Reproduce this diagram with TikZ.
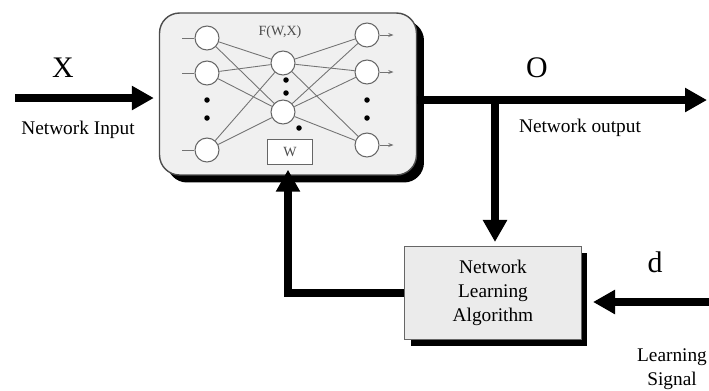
\documentclass[tikz,border=0pt]{standalone}
\usepackage{fontspec}
\setmainfont{Liberation Serif}
\usetikzlibrary{arrows.meta,shadows}
\tikzset{
  bigarrow/.style={line width=0.16cm,-{Triangle[length=0.44cm,width=0.46cm]}},
  neuron/.style={circle,draw=black!60,fill=white,line width=0.6pt,minimum size=0.48cm,inner sep=0pt},
  wire/.style={draw=black!55,line width=0.5pt},
  dot/.style={circle,fill=black,inner sep=0pt,minimum size=0.11cm},
  label/.style={font=\fontsize{11}{13.6}\selectfont},
  biglabel/.style={font=\fontsize{17}{19}\selectfont}
}
\begin{document}
\begin{tikzpicture}[x=0.02cm,y=-0.02cm]
\useasboundingbox (0,0) rectangle (709,390);
% network block
\node (net) at (288,94) [draw=black!70,line width=0.8pt,fill=black!6,rounded corners=0.4cm,
  minimum width=5.14cm,minimum height=3.24cm,
  drop shadow={shadow xshift=0.15cm,shadow yshift=-0.15cm,fill=black,opacity=1}] {};
\node (learn) at (493,293) [draw=black!60,line width=0.6pt,fill=black!8,
  minimum width=3.54cm,minimum height=1.86cm,align=center,label,
  drop shadow={shadow xshift=0.12cm,shadow yshift=-0.12cm,fill=black,opacity=1}]
  {Network\\Learning\\Algorithm};
% neurons
\node[neuron] (l1) at (207,38) {};
\node[neuron] (l2) at (207,73) {};
\node[neuron] (l3) at (207,150) {};
\node[neuron] (h1) at (283,63) {};
\node[neuron] (h2) at (283,112) {};
\node[neuron] (r1) at (367,35) {};
\node[neuron] (r2) at (367,72) {};
\node[neuron] (r3) at (367,145) {};
\foreach \a in {l1,l2,l3}
  \foreach \b in {h1,h2}
    \draw[wire] (\a) -- (\b);
\foreach \a in {h1,h2}
  \foreach \b in {r1,r2,r3}
    \draw[wire] (\a) -- (\b);
\foreach \a in {l1,l2,l3}
  \draw[wire] (\a.west) -- ++(-12,0);
\foreach \b in {r1,r2,r3}
  \draw[wire,-{Stealth[length=3pt]}] (\b.east) -- ++(14,0);
\node[dot] (dl1) at (207,100) {};
\node[dot] (dl2) at (207,118) {};
\node[dot] (dh1) at (286,80) {};
\node[dot] (dh2) at (286,93) {};
\node[dot] (dh3) at (299,128) {};
\node[dot] (dr1) at (367,100) {};
\node[dot] (dr2) at (367,118) {};
\node (fwx) at (280,32) [font=\fontsize{8}{9}\selectfont,text=black!70] {F(W,X)};
\node (wbox) at (290,152) [draw=black!60,fill=white,minimum width=0.9cm,minimum height=0.5cm,
  font=\fontsize{8}{9}\selectfont,text=black!70] {W};
% signals
\coordinate (in) at (15,98);
\coordinate (out) at (707,100);
\coordinate (br) at (495,100);
\coordinate (dsig) at (709,302);
\draw[bigarrow,shorten >=0.1cm] (in) -- (in -| net.west);
\draw[bigarrow] (net.east |- out) -- (out);
\draw[bigarrow,shorten >=0.08cm] (br) -- (br |- learn.north);
\draw[bigarrow,shorten >=-0.12cm] (learn.west) -| (net.south);
\draw[bigarrow,shorten >=0.22cm] (dsig) -- (learn.east |- dsig);
% labels
\node[biglabel] (xlab) at (63,68) {X};
\node[label] (inlab) at (78,130) {Network Input};
\node[biglabel] (olab) at (537,68) {O};
\node[label] (outlab) at (580,128) {Network output};
\node[biglabel] (dlab) at (655,262) {d};
\node[label,align=center] (siglab) at (672,369) {Learning\\Signal};
\end{tikzpicture}
\end{document}
